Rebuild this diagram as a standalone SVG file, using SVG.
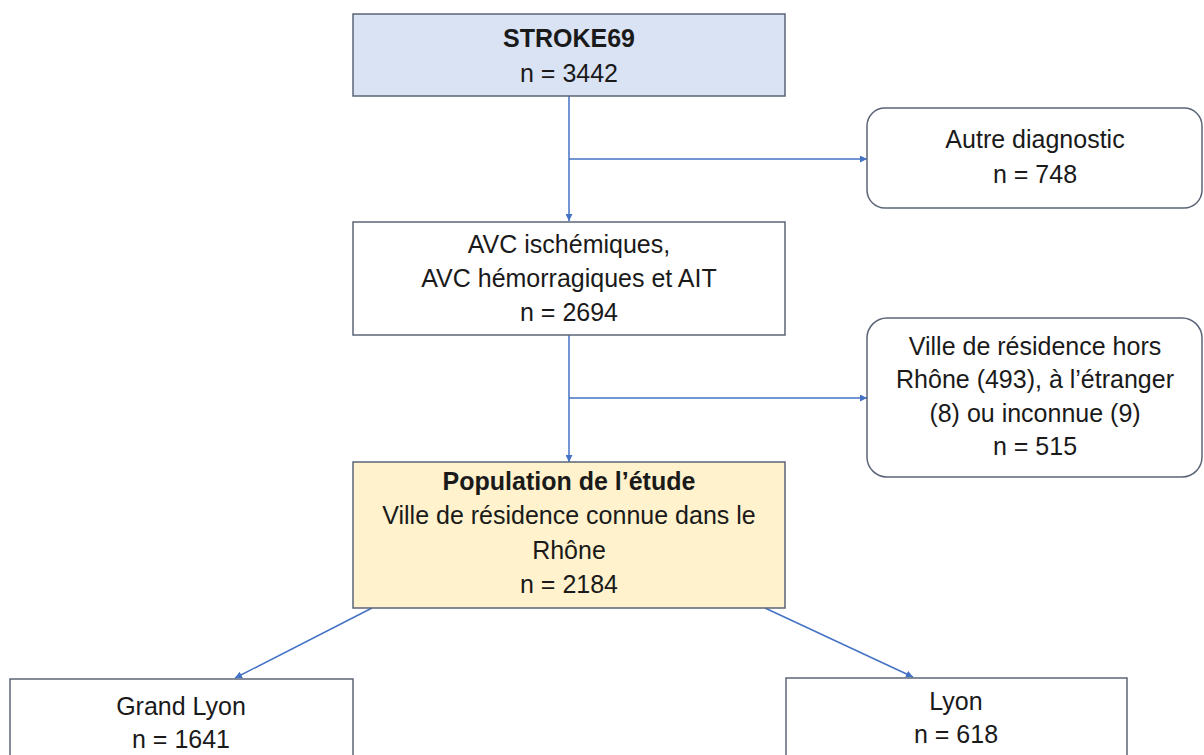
<svg xmlns="http://www.w3.org/2000/svg" width="1204" height="755" viewBox="0 0 1204 755">
<style>
.box{stroke:#5b6577;stroke-width:1.5;}
.plain{fill:#ffffff;}
.blue{fill:#dae3f3;}
.yellow{fill:#fff2cc;}
text{font-family:"Liberation Sans",Arial,sans-serif;font-size:25px;fill:#1a1a1a;text-anchor:middle;}
.b{font-weight:bold;}
.conn{stroke:#4472c4;stroke-width:1.5;fill:none;}
</style>
<defs>
<marker id="ah" viewBox="0 0 10 10" refX="10" refY="5" markerWidth="7" markerHeight="7" orient="auto" markerUnits="userSpaceOnUse">
<path d="M0,0 L10,5 L0,10 z" fill="#4472c4"/>
</marker>
</defs>
<rect width="1204" height="755" fill="#ffffff"/>
<g id="connectors">
<line class="conn" x1="569" y1="96" x2="569" y2="221" marker-end="url(#ah)"/>
<line class="conn" x1="569" y1="159" x2="867" y2="159" marker-end="url(#ah)"/>
<line class="conn" x1="569" y1="335" x2="569" y2="462" marker-end="url(#ah)"/>
<line class="conn" x1="569" y1="398" x2="867" y2="398" marker-end="url(#ah)"/>
<line class="conn" x1="372" y1="608" x2="235" y2="678" marker-end="url(#ah)"/>
<line class="conn" x1="765" y1="608" x2="913" y2="677" marker-end="url(#ah)"/>
</g>
<g id="stroke69">
<rect class="box blue" x="353" y="14" width="432" height="82"/>
<text class="b" x="569" y="47">STROKE69</text>
<text x="569" y="82">n = 3442</text>
</g>
<g id="autre">
<rect class="box plain" x="867" y="108" width="335" height="100" rx="18" ry="18"/>
<text x="1035" y="148">Autre diagnostic</text>
<text x="1035" y="183">n = 748</text>
</g>
<g id="avc">
<rect class="box plain" x="353" y="222" width="432" height="113"/>
<text x="569" y="253">AVC ischémiques,</text>
<text x="569" y="287">AVC hémorragiques et AIT</text>
<text x="569" y="321">n = 2694</text>
</g>
<g id="hors">
<rect class="box plain" x="867" y="318" width="335" height="159" rx="20" ry="20"/>
<text x="1035" y="355">Ville de résidence hors</text>
<text x="1035" y="388">Rhône (493), à l’étranger</text>
<text x="1035" y="422">(8) ou inconnue (9)</text>
<text x="1035" y="455">n = 515</text>
</g>
<g id="population">
<rect class="box yellow" x="353" y="462" width="432" height="146"/>
<text class="b" x="569" y="490">Population de l’étude</text>
<text x="569" y="524">Ville de résidence connue dans le</text>
<text x="569" y="559">Rhône</text>
<text x="569" y="593">n = 2184</text>
</g>
<g id="grandlyon">
<rect class="box plain" x="10" y="679" width="343" height="90"/>
<text x="181" y="715">Grand Lyon</text>
<text x="181" y="748">n = 1641</text>
</g>
<g id="lyon">
<rect class="box plain" x="786" y="678" width="341" height="90"/>
<text x="956" y="710">Lyon</text>
<text x="956" y="743">n = 618</text>
</g>
</svg>
